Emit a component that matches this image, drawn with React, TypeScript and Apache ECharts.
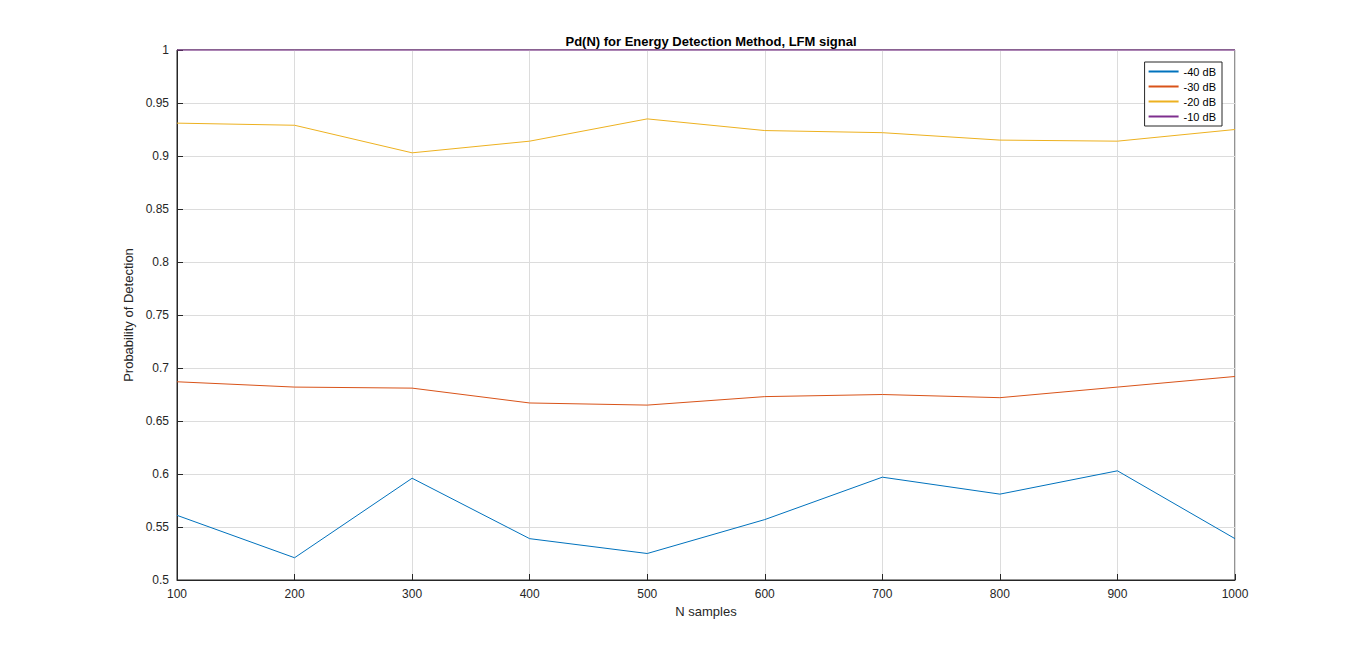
import { useEffect, useRef } from 'react';
import * as echarts from 'echarts';

const nSamples = [100, 200, 300, 400, 500, 600, 700, 800, 900, 1000];
const pd40 = [0.561, 0.521, 0.596, 0.539, 0.525, 0.557, 0.597, 0.581, 0.603, 0.539];
const pd30 = [0.687, 0.682, 0.681, 0.667, 0.665, 0.673, 0.675, 0.672, 0.682, 0.692];
const pd20 = [0.931, 0.929, 0.903, 0.914, 0.935, 0.924, 0.922, 0.915, 0.914, 0.925];
const pd10 = [1, 1, 1, 1, 1, 1, 1, 1, 1, 1];

const seriesDefs = [
  { name: '-40 dB', data: pd40, color: '#0072BD' },
  { name: '-30 dB', data: pd30, color: '#D95319' },
  { name: '-20 dB', data: pd20, color: '#EDB120' },
  { name: '-10 dB', data: pd10, color: '#7E2F8E' },
];

export default function App() {
  const chartRef = useRef<HTMLDivElement>(null);

  useEffect(() => {
    if (!chartRef.current) return;
    const chart = echarts.init(chartRef.current, null, { renderer: 'svg' });
    const axisCommon = {
      axisLine: { show: true, onZero: false, lineStyle: { color: '#262626' } },
      axisTick: { show: true, inside: true, length: 6, lineStyle: { color: '#262626' } },
      axisLabel: { color: '#262626', fontSize: 12, fontFamily: 'Arial, Liberation Sans' },
      splitLine: { show: true, lineStyle: { color: '#dcdcdc' } },
      nameTextStyle: { color: '#262626', fontSize: 13, fontFamily: 'Arial, Liberation Sans' },
    };
    chart.setOption({
      animation: false,
      backgroundColor: '#fff',
      title: {
        text: 'Pd(N) for Energy Detection Method, LFM signal',
        left: 698,
        top: 22,
        textAlign: 'center',
        textStyle: { fontSize: 13, fontWeight: 'bold', color: '#000', fontFamily: 'Arial, Liberation Sans' },
      },
      grid: { left: 169, top: 42, width: 1058, height: 530, show: true, borderColor: '#262626', borderWidth: 1 },
      legend: {
        orient: 'vertical',
        right: 136,
        top: 54,
        itemWidth: 30,
        itemHeight: 2,
        itemGap: 4,
        padding: [4, 6, 4, 4],
        borderColor: '#262626',
        borderWidth: 1,
        backgroundColor: '#fff',
        icon: 'rect',
        textStyle: { fontSize: 11, color: '#000', fontFamily: 'Arial, Liberation Sans' },
        data: seriesDefs.map((s) => s.name),
      },
      xAxis: {
        type: 'value',
        min: 100,
        max: 1000,
        interval: 100,
        name: 'N samples',
        nameLocation: 'middle',
        nameGap: 24,
        ...axisCommon,
        axisLabel: { ...axisCommon.axisLabel, formatter: (v: number) => String(v) },
      },
      yAxis: {
        type: 'value',
        min: 0.5,
        max: 1,
        interval: 0.05,
        name: 'Probability of Detection',
        nameLocation: 'middle',
        nameGap: 32,
        ...axisCommon,
        axisLabel: { ...axisCommon.axisLabel, formatter: (v: number) => String(+v.toFixed(2)) },
      },
      series: seriesDefs.map((s) => ({
        name: s.name,
        type: 'line',
        data: nSamples.map((n, i) => [n, s.data[i]]),
        showSymbol: false,
        lineStyle: { width: 1, color: s.color },
        itemStyle: { color: s.color },
        clip: false,
      })),
    });
    return () => chart.dispose();
  }, []);

  return <div ref={chartRef} style={{ width: 1350, height: 636 }} />;
}
